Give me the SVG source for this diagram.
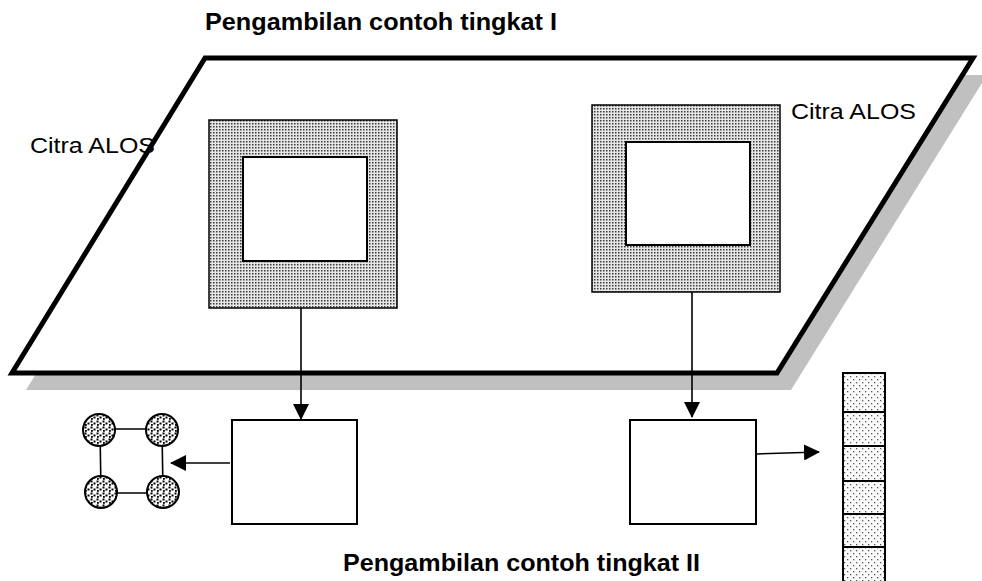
<svg xmlns="http://www.w3.org/2000/svg" width="982" height="581" viewBox="0 0 982 581">
<style>
.t{font-family:"Liberation Sans",Arial,sans-serif;fill:#000}
.b{font-weight:bold;font-size:24.5px}
.r{font-size:22px}
.ln{stroke:#000;stroke-width:1.6;fill:none}
.box{fill:#fff;stroke:#000;stroke-width:2}
.sh{fill:url(#stip);stroke:#000;stroke-width:1.5}
</style>
<defs>
<pattern id="stip" width="3" height="3" patternUnits="userSpaceOnUse">
<rect width="3" height="3" fill="#e6e6e6"/>
<rect x="0" y="0" width="1.5" height="1.5" fill="#3a3a3a"/>
</pattern>
<pattern id="dots" width="6" height="6" patternUnits="userSpaceOnUse">
<rect width="6" height="6" fill="#fff"/>
<rect x="0.5" y="0.5" width="2" height="2" fill="#000"/>
<rect x="3.5" y="2.5" width="2" height="2" fill="#000"/>
<rect x="1" y="4" width="1.8" height="1.8" fill="#000"/>
</pattern>
<pattern id="sparse" width="6" height="6" patternUnits="userSpaceOnUse">
<rect width="6" height="6" fill="#fbfbfb"/>
<rect x="1" y="1" width="1.3" height="1.3" fill="#555"/>
<rect x="4" y="4" width="1.3" height="1.3" fill="#555"/>
</pattern>
<marker id="ah" markerWidth="16" markerHeight="16" refX="15" refY="8" orient="auto" markerUnits="userSpaceOnUse">
<path d="M0,0 L16,8 L0,16 Z" fill="#000"/>
</marker>
</defs>
<rect width="982" height="581" fill="#fff"/>
<g id="citra-plane">
<polygon points="219,75 987,75 791,390 26,390" fill="#c0c0c0"/>
<polygon points="205,58 973,58 777,373 12,373" fill="#fff" stroke="#000" stroke-width="5" stroke-linejoin="miter"/>
</g>
<g id="sample-left">
<rect class="sh" x="209" y="120" width="188" height="188"/>
<rect class="box" x="243" y="157" width="124" height="104"/>
</g>
<g id="sample-right">
<rect class="sh" x="592" y="105" width="188" height="187"/>
<rect class="box" x="626" y="142" width="124" height="103"/>
</g>
<g id="box-left">
<rect class="box" x="232" y="420" width="125" height="104"/>
</g>
<g id="box-right">
<rect class="box" x="630" y="420" width="126" height="104"/>
</g>
<g id="cluster">
<path class="ln" d="M99,429 H162 M100,430 L101,492 M162,430 L163,492 M101,493 H163"/>
<circle cx="99" cy="430" r="16" fill="url(#dots)" stroke="#000" stroke-width="2"/>
<circle cx="162" cy="430" r="16" fill="url(#dots)" stroke="#000" stroke-width="2"/>
<circle cx="101" cy="492" r="16" fill="url(#dots)" stroke="#000" stroke-width="2"/>
<circle cx="163" cy="492" r="16" fill="url(#dots)" stroke="#000" stroke-width="2"/>
</g>
<g id="strip">
<rect x="843" y="373" width="42" height="210" fill="url(#sparse)" stroke="#000" stroke-width="2"/>
<path d="M843,412 H885 M843,446 H885 M843,481 H885 M843,514 H885 M843,547 H885" stroke="#000" stroke-width="2"/>
</g>
<g id="connectors">
<line class="ln" x1="301" y1="308" x2="301" y2="419" marker-end="url(#ah)"/>
<line class="ln" x1="692" y1="292" x2="692" y2="417" marker-end="url(#ah)"/>
<line class="ln" x1="230" y1="463" x2="171" y2="463" marker-end="url(#ah)"/>
<line class="ln" x1="756" y1="454" x2="819" y2="452" marker-end="url(#ah)"/>
</g>
<g id="labels">
<text class="t b" x="205" y="30" textLength="352" lengthAdjust="spacingAndGlyphs">Pengambilan contoh tingkat I</text>
<text class="t b" x="343" y="571" textLength="357" lengthAdjust="spacingAndGlyphs">Pengambilan contoh tingkat II</text>
<text class="t r" x="30" y="153" textLength="125" lengthAdjust="spacingAndGlyphs">Citra ALOS</text>
<text class="t r" x="791" y="119" textLength="125" lengthAdjust="spacingAndGlyphs">Citra ALOS</text>
</g>
</svg>
